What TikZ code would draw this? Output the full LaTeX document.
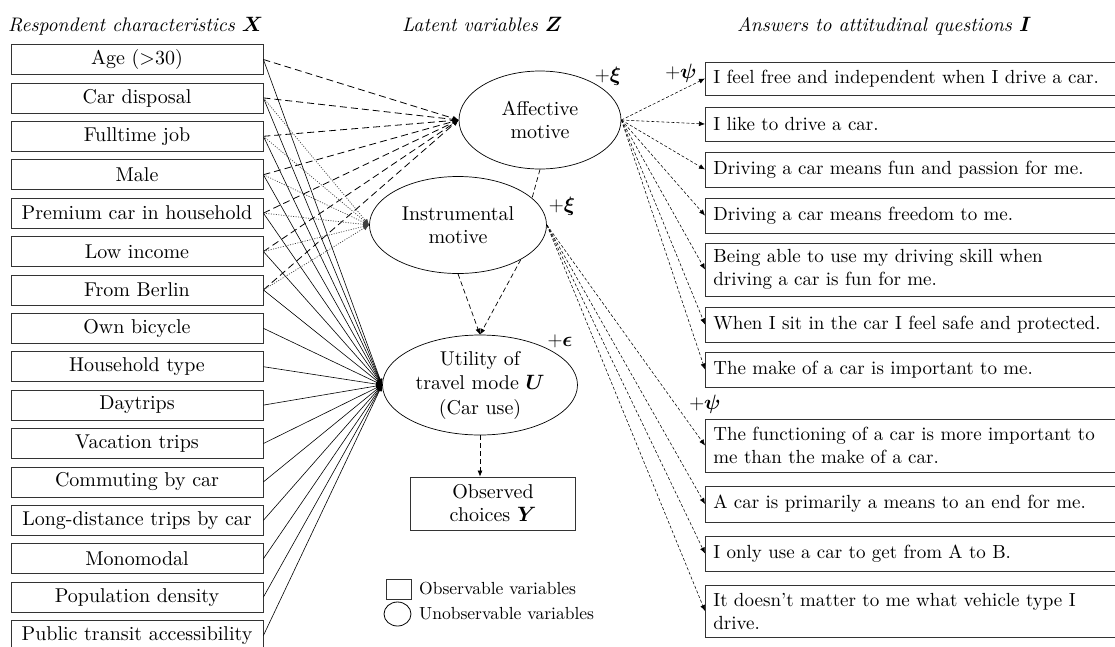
\documentclass[tikz,border=0pt]{standalone}
\usepackage{amsmath}
\usepackage{bm}
\usepackage{fontspec}
\setmainfont{lmroman10-regular.otf}[BoldFont=lmroman10-bold.otf, ItalicFont=lmroman10-italic.otf, BoldItalicFont=lmroman10-bolditalic.otf]
\usetikzlibrary{shapes.geometric,arrows.meta}
\begin{document}
\begin{tikzpicture}[x=1pt,y=-1pt,
  font=\fontsize{20}{23}\selectfont,
  lbox/.style={draw=black!80, line width=0.8pt, minimum width=252pt, minimum height=30pt, inner sep=0pt},
  rbox/.style={draw=black!80, line width=0.8pt, anchor=west, minimum width=420pt, text width=440pt, inner xsep=8pt, inner ysep=0pt, align=left, font=\fontsize{19}{23}\selectfont},
  lat/.style={draw, ellipse, line width=0.7pt, inner sep=0pt, align=center},
  tip/.style={-{Latex[length=6pt,width=5pt]}},
  solidarrow/.style={tip, line width=0.6pt},
  dasharrow/.style={tip, line width=0.8pt, dash pattern=on 7pt off 4pt},
  dotarrow/.style={tip, line width=0.7pt, black!75, dash pattern=on 1pt off 1.5pt},
  finearrow/.style={tip, line width=0.55pt, dash pattern=on 3pt off 2pt},
  midarrow/.style={tip, line width=0.7pt, dash pattern=on 5pt off 3pt},
  corr/.style={line width=0.7pt, dash pattern=on 5pt off 3pt},
  head/.style={font=\fontsize{19.6}{23}\selectfont\itshape, anchor=base west, inner sep=0pt},
  err/.style={inner sep=0pt, font=\fontsize{21}{23}\selectfont},
  legtext/.style={font=\fontsize{17.5}{21}\selectfont, anchor=west, inner sep=0pt}]
\useasboundingbox (0,0) rectangle (1115,646);

% headings
\node[head] (h1) at (8,31) {Respondent characteristics $\bm{X}$};
\node[head] (h2) at (402,31) {Latent variables $\bm{Z}$};
\node[head] (h3) at (737,31) {Answers to attitudinal questions $\bm{I}$};

% left boxes
\foreach \t [count=\k] in {{Age (>30)},{Car disposal},{Fulltime job},{Male},{Premium car in household},{Low income},{From Berlin},{Own bicycle},{Household type},{Daytrips},{Vacation trips},{Commuting by car},{Long-distance trips by car},{Monomodal},{Population density},{Public transit accessibility}}
  \node[lbox] (L\k) at (137,{59.5+38.4*(\k-1)}) {\t};

% latent ellipses
\node[lat, minimum width=162pt, minimum height=98pt] (a) at (540,120) {Affective\\motive};
\node[lat, minimum width=177pt, minimum height=97pt] (i) at (458,225) {Instrumental\\motive};
\node[lat, minimum width=195pt, minimum height=100pt, font=\fontsize{20}{24.5}\selectfont] (u) at (480,385) {Utility of\\travel mode $\bm{U}$\\(Car use)};
\node[draw=black!80, line width=0.8pt, minimum width=165pt, minimum height=53pt, inner sep=0pt, align=center] (obs) at (493,503.5) {Observed\\choices $\bm{Y}$};

% error terms
\node[err] (ea) at (608,76) {$+\bm{\xi}$};
\node[err] (ei) at (562,206) {$+\bm{\xi}$};
\node[err] (eu) at (560,341) {$+\bm{\epsilon}$};
\node[err] (p1) at (681,73) {$+\bm{\psi}$};
\node[err] (p2) at (705,404) {$+\bm{\psi}$};

% right boxes
\node[rbox, minimum height=33pt] (R1) at (705,78.5) {I feel free and independent when I drive a car.};
\node[rbox, minimum height=34pt] (R2) at (705,124) {I like to drive a car.};
\node[rbox, minimum height=35pt] (R3) at (705,169.5) {Driving a car means fun and passion for me.};
\node[rbox, minimum height=35pt] (R4) at (705,215.5) {Driving a car means freedom to me.};
\node[rbox, minimum height=53pt] (R5) at (705,269.5) {Being able to use my driving skill when\\driving a car is fun for me.};
\node[rbox, minimum height=35pt] (R6) at (705,324.5) {When I sit in the car I feel safe and protected.};
\node[rbox, minimum height=35pt] (R7) at (705,369.5) {The make of a car is important to me.};
\node[rbox, minimum height=53pt] (R8) at (705,445.5) {The functioning of a car is more important to\\me than the make of a car.};
\node[rbox, minimum height=36pt] (R9) at (705,504) {A car is primarily a means to an end for me.};
\node[rbox, minimum height=35pt] (R10) at (705,553.5) {I only use a car to get from A to B.};
\node[rbox, minimum height=52pt] (R11) at (705,611) {It doesn't matter to me what vehicle type I\\drive.};

% legend
\node[draw=black!80, line width=0.8pt, minimum width=25pt, minimum height=20pt, inner sep=0pt] (lg1) at (398.5,589) {};
\node[legtext] (lt1) at (419,589) {Observable variables};
\node[draw, ellipse, line width=0.8pt, minimum width=27pt, minimum height=24pt, inner sep=0pt] (lg2) at (397.5,614) {};
\node[legtext] (lt2) at (419,614) {Unobservable variables};

% connectors
\foreach \k in {1,...,16} \draw[solidarrow] (L\k.east) -- (u.west);
\foreach \k in {1,...,7} \draw[dasharrow] (L\k.east) -- (a.west);
\foreach \k in {2,...,7} \draw[dotarrow] (L\k.east) -- (i.west);
\foreach \k in {1,...,7} \draw[finearrow] (a.east) -- (R\k.west);
\foreach \k in {8,...,11} \draw[finearrow] (i.east) -- (R\k.west);
\draw[corr] (a.south) -- (i.20);
\draw[midarrow] (i.south) -- (u.north);
\draw[midarrow] (i.south east) -- (u.north);
\draw[midarrow] (u.south) -- (u.south |- obs.north);
\end{tikzpicture}
\end{document}
